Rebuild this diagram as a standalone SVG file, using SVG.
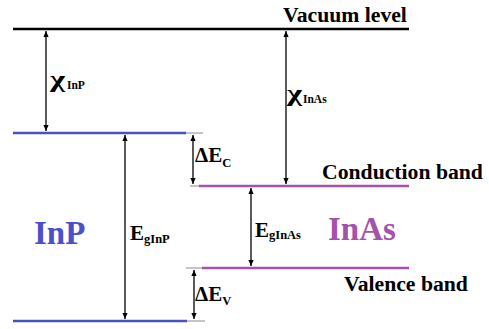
<svg xmlns="http://www.w3.org/2000/svg" width="489" height="329" viewBox="0 0 489 329">
<style>
  text{font-family:"Liberation Serif","DejaVu Serif","Times New Roman",serif;font-weight:bold;}
  .lbl{fill:#000;}
  .big{font-size:21.7px;}
  .sym{font-size:21px;}
  .sub{font-size:12.5px;}
  .csub{font-size:11.5px;}
  .chi{font-size:23px;}
  .mat{font-size:33px;}
  .arr{stroke:#000;stroke-width:1.3;fill:none;marker-start:url(#ah);marker-end:url(#ah);}
  .tick{stroke:#8a8a8a;stroke-width:1;}
  .inp{stroke:#4a50c4;stroke-width:2.5;}
  .inas{stroke:#a452aa;stroke-width:2.5;}
</style>
<defs>
  <marker id="ah" markerUnits="userSpaceOnUse" markerWidth="8" markerHeight="8" refX="6" refY="2.6" orient="auto-start-reverse">
    <path d="M0,0 L6,2.6 L0,5.2 Z" fill="#000"/>
  </marker>
</defs>
<rect width="489" height="329" fill="#fff"/>

<g id="vacuum">
  <line x1="13" y1="29" x2="409" y2="29" stroke="#000" stroke-width="2.5"/>
  <text class="lbl big" x="283" y="22">Vacuum level</text>
</g>

<g id="inp">
  <line class="inp" x1="13" y1="133" x2="186" y2="133"/>
  <line class="inp" x1="13" y1="321" x2="187" y2="321"/>
  <text class="mat" x="34" y="244" fill="#4a4fcc">InP</text>
</g>

<g id="inas">
  <line class="inas" x1="199" y1="186" x2="409" y2="186"/>
  <line class="inas" x1="202" y1="268" x2="409" y2="268"/>
  <text class="mat" x="328" y="240" fill="#a452ac">InAs</text>
  <text class="lbl big" x="322" y="179">Conduction band</text>
  <text class="lbl big" x="344" y="291">Valence band</text>
</g>

<g id="connectors">
  <line class="tick" x1="186" y1="133" x2="203" y2="133"/>
  <line class="tick" x1="190" y1="186" x2="199" y2="186"/>
  <line class="tick" x1="186" y1="268" x2="202" y2="268"/>
  <line class="tick" x1="187" y1="321" x2="205" y2="321"/>

  <line class="arr" x1="46" y1="31" x2="46" y2="131"/>
  <line class="arr" x1="286" y1="31" x2="286" y2="184"/>
  <line class="arr" x1="125" y1="135" x2="125" y2="319"/>
  <line class="arr" x1="193" y1="135" x2="193" y2="184"/>
  <line class="arr" x1="251" y1="188" x2="251" y2="266"/>
  <line class="arr" x1="194" y1="270" x2="194" y2="319"/>
</g>

<g id="labels">
  <text class="lbl chi" x="50" y="87" textLength="15" lengthAdjust="spacingAndGlyphs">χ</text>
  <text class="lbl csub" x="67" y="89">InP</text>
  <text class="lbl chi" x="287" y="101" textLength="15" lengthAdjust="spacingAndGlyphs">χ</text>
  <text class="lbl csub" x="303" y="103">InAs</text>
  <text class="lbl" x="195" y="162"><tspan class="sym">ΔE</tspan><tspan class="sub" dy="5">C</tspan></text>
  <text class="lbl" x="195" y="301"><tspan class="sym">ΔE</tspan><tspan class="sub" dy="4">V</tspan></text>
  <text class="lbl" x="130" y="240"><tspan class="sym">E</tspan><tspan class="sub" dy="3">gInP</tspan></text>
  <text class="lbl" x="255" y="237"><tspan class="sym">E</tspan><tspan class="sub" dy="2">gInAs</tspan></text>
</g>
</svg>
